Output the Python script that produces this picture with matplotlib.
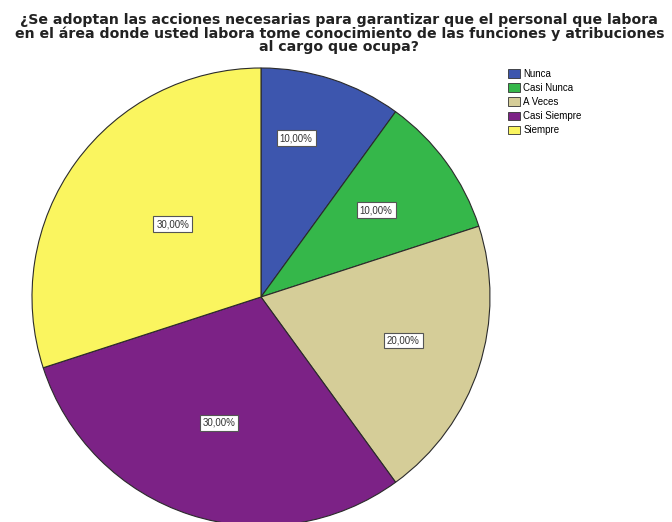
import matplotlib.pyplot as plt
import numpy as np
from matplotlib.patches import Patch

# Respuestas a la pregunta (porcentaje de encuestados)
categorias = ["Nunca", "Casi Nunca", "A Veces", "Casi Siempre", "Siempre"]
porcentajes = [10.0, 10.0, 20.0, 30.0, 30.0]
colores = ["#3d56ae", "#35b74a", "#d5cd98", "#7c2286", "#faf55f"]
# distancia radial de cada etiqueta y giro extra (grados)
dist_etiqueta = [0.71, 0.63, 0.65, 0.58, 0.50]
giro_etiqueta = [5.5, 1.0, 1.0, -0.5, -3.5]

titulo = ("¿Se adoptan las acciones necesarias para garantizar que el personal que labora\n"
          "en el área donde usted labora tome conocimiento de las funciones y atribuciones\n"
          "al cargo que ocupa?")

plt.rcParams['font.family'] = ['Liberation Sans', 'DejaVu Sans']

W, H = 672, 522
fig = plt.figure(figsize=(W / 100, H / 100), dpi=100)

# pie centered at (261, 297) px from top, radius 229 px
cx, cy, r = 261, 297, 229
ax = fig.add_axes([(cx - r) / W, (H - cy - r) / H, 2 * r / W, 2 * r / H])

wedges, _ = ax.pie(porcentajes, colors=colores, startangle=90, counterclock=False,
                   radius=1.0, wedgeprops=dict(edgecolor="#2b2b2b", linewidth=0.8))
ax.set_xlim(-1, 1)
ax.set_ylim(-1, 1)
ax.set_aspect('auto')
ax.axis('off')

for w, pct, d, g in zip(wedges, porcentajes, dist_etiqueta, giro_etiqueta):
    ang = np.deg2rad((w.theta1 + w.theta2) / 2 + g)
    ax.text(d * np.cos(ang), d * np.sin(ang), f"{pct:.2f}%".replace(".", ","),
            ha='center', va='center', fontsize=7, color='#333333',
            bbox=dict(boxstyle='square,pad=0.3', facecolor='white',
                      edgecolor='#555555', linewidth=0.8))

fig.text(0.505, 1 - 13 / H, titulo, ha='center', va='top', fontsize=10.15,
         fontweight='bold', family='DejaVu Sans', linespacing=0.95, color='#222222')

handles = [Patch(facecolor=c, edgecolor='#333333', linewidth=0.6, label=l)
           for c, l in zip(colores, categorias)]
fig.legend(handles=handles, loc='upper left', bbox_to_anchor=(508 / W, 1 - 69 / H),
           frameon=False, fontsize=7, handlelength=1.2, handleheight=1.0,
           handletextpad=0.35, labelspacing=0.42, borderpad=0.0, borderaxespad=0.0)

fig.savefig("out.png", dpi=100)
